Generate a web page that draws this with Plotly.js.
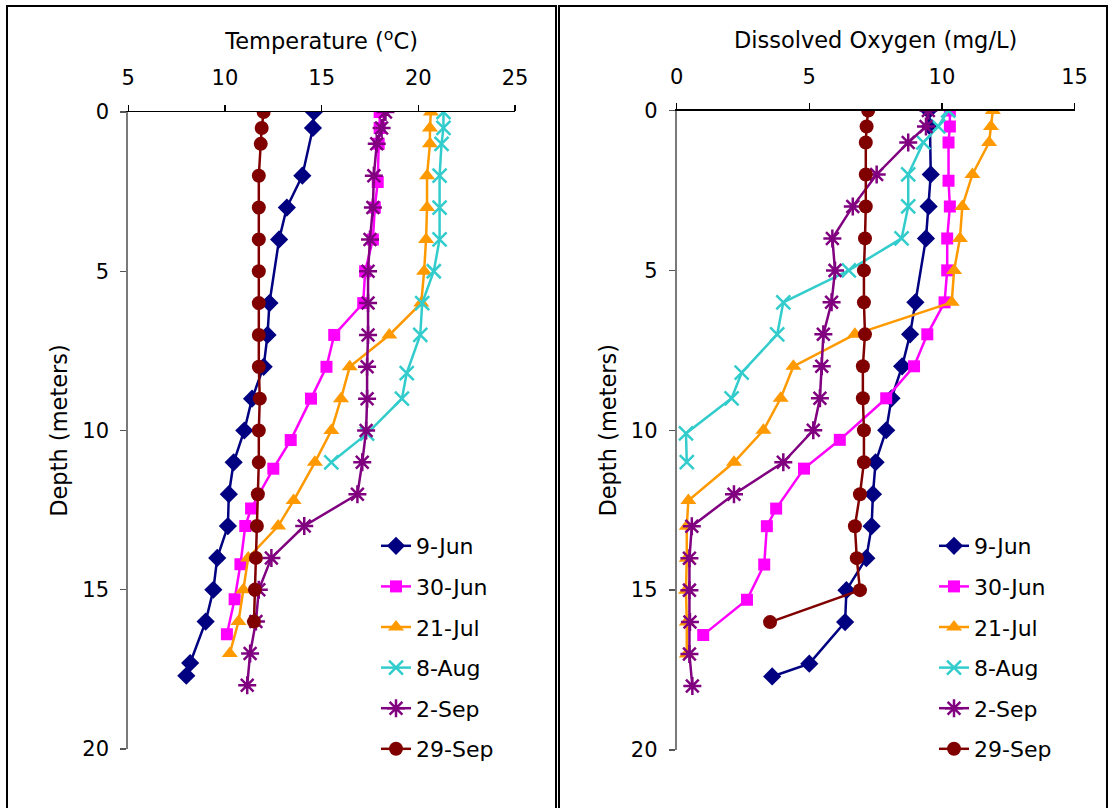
<!DOCTYPE html>
<html>
<head>
<meta charset="utf-8">
<script src="https://cdn.plot.ly/plotly-3.0.1.min.js"></script>
<style>html,body{margin:0;padding:0;background:#fff;}#chart{width:1110px;height:808px;}</style>
</head>
<body>
<div id="chart"></div>
<script>
// ---- data ----
const seriesNames = ["9-Jun", "30-Jun", "21-Jul", "8-Aug", "2-Sep", "29-Sep"];

const depth9Jun  = [0, 0.5, 2, 3, 4, 6, 7, 8, 9, 10, 11, 12, 13, 14, 15, 16, 17.3, 17.7];
const temp9Jun   = [14.6, 14.55, 14.0, 13.2, 12.8, 12.3, 12.2, 12.0, 11.4, 11.0, 10.45, 10.2, 10.15, 9.6, 9.4, 9.0, 8.2, 8.0];
const do9Jun     = [9.5, 9.55, 9.58, 9.5, 9.4, 9.0, 8.8, 8.5, 8.1, 7.9, 7.5, 7.4, 7.35, 7.15, 6.4, 6.35, 5.0, 3.6];

const depth30Jun = [0, 0.5, 1, 2.2, 3, 4, 5, 6, 7, 8, 9, 10.3, 11.2, 12.45, 13, 14.2, 15.3, 16.4];
const temp30Jun  = [18.0, 18.0, 17.95, 17.9, 17.75, 17.65, 17.25, 17.15, 15.65, 15.25, 14.45, 13.4, 12.5, 11.35, 11.05, 10.8, 10.5, 10.1];
const do30Jun    = [10.3, 10.3, 10.25, 10.25, 10.3, 10.2, 10.2, 10.1, 9.45, 8.95, 7.9, 6.15, 4.8, 3.75, 3.4, 3.3, 2.65, 1.0];

const depth21Jul = [0, 0.5, 1, 2, 3, 4, 5, 6, 7, 8, 9, 10, 11, 12.2, 13, 14, 15, 16, 17];
const temp21Jul  = [20.65, 20.6, 20.6, 20.45, 20.45, 20.4, 20.3, 20.15, 18.5, 16.45, 16.0, 15.5, 14.65, 13.55, 12.75, 11.2, 10.95, 10.7, 10.25];
const do21Jul    = [11.92, 11.85, 11.78, 11.15, 10.77, 10.68, 10.46, 10.37, 6.72, 4.4, 3.92, 3.27, 2.16, 0.44, 0.38, 0.38, 0.35, 0.38, 0.38];

const depth8Aug  = [0, 0.5, 1, 2, 3, 4, 5, 6, 7, 8.2, 9, 10.1, 11];
const temp8Aug   = [21.3, 21.3, 21.2, 21.1, 21.1, 21.1, 20.8, 20.2, 20.1, 19.4, 19.15, 17.35, 15.5];
const do8Aug     = [10.24, 9.86, 9.3, 8.73, 8.73, 8.48, 6.49, 4.02, 3.79, 2.45, 2.07, 0.35, 0.38];

const depth2Sep  = [0, 0.5, 1, 2, 3, 4, 5, 6, 7, 8, 9, 10, 11, 12, 13, 14, 15, 16, 17, 18];
const temp2Sep   = [18.3, 18.1, 17.85, 17.7, 17.65, 17.5, 17.4, 17.4, 17.4, 17.35, 17.35, 17.3, 17.1, 16.85, 14.1, 12.4, 11.75, 11.6, 11.3, 11.15];
const do2Sep     = [9.49, 9.4, 8.73, 7.54, 6.64, 5.87, 5.97, 5.84, 5.53, 5.47, 5.4, 5.15, 4.02, 2.16, 0.57, 0.48, 0.48, 0.5, 0.48, 0.59];

const depth29Sep = [0, 0.5, 1, 2, 3, 4, 5, 6, 7, 8, 9, 10, 11, 12, 13, 14, 15, 16];
const temp29Sep  = [12.0, 11.9, 11.85, 11.75, 11.75, 11.75, 11.75, 11.75, 11.75, 11.75, 11.8, 11.75, 11.75, 11.7, 11.65, 11.6, 11.55, 11.5];
const do29Sep    = [7.22, 7.16, 7.13, 7.13, 7.13, 7.1, 7.06, 7.06, 7.1, 7.02, 7.02, 7.06, 7.06, 6.91, 6.72, 6.79, 6.91, 3.52];

const tempTicks = [5, 10, 15, 20, 25];
const doTicks = [0, 5, 10, 15];
const depthTicks = [0, 5, 10, 15, 20];

// ---- styles ----
const colors = ["#000080", "#FF00FF", "#FF9900", "#33CCCC", "#800080", "#800000"];
const symbols = ["diamond", "square", "triangle-up", "x-thin-open", "asterisk-open", "circle"];
const sizes = [14, 12, 14, 14, 15, 14];
const depths = [depth9Jun, depth30Jun, depth21Jul, depth8Aug, depth2Sep, depth29Sep];
const temps = [temp9Jun, temp30Jun, temp21Jul, temp8Aug, temp2Sep, temp29Sep];
const dos = [do9Jun, do30Jun, do21Jul, do8Aug, do2Sep, do29Sep];

const FONT = "DejaVu Sans, Verdana, sans-serif";
const W = 1110, H = 808;
const px = v => v / W;
const py = v => 1 - v / H;

const traces = [];
seriesNames.forEach((name, i) => {
  const marker = {
    symbol: symbols[i], size: sizes[i], color: colors[i],
    line: {color: colors[i], width: (symbols[i].indexOf("open") >= 0) ? 2.5 : 0}
  };
  traces.push({
    type: "scatter", mode: "lines+markers", name: name,
    x: temps[i], y: depths[i], xaxis: "x", yaxis: "y",
    line: {color: colors[i], width: 2.5}, marker: marker,
    legend: "legend", legendgroup: "L" + i, hoverinfo: "skip"
  });
  traces.push({
    type: "scatter", mode: "lines+markers", name: name,
    x: dos[i], y: depths[i], xaxis: "x2", yaxis: "y2",
    line: {color: colors[i], width: 2.5}, marker: marker,
    legend: "legend2", legendgroup: "R" + i, hoverinfo: "skip"
  });
});

const xBase = {
  side: "top", showgrid: false, zeroline: false, showline: true,
  linecolor: "#000", linewidth: 1.3, ticks: "outside", ticklen: 6, tickwidth: 1.3,
  tickcolor: "#000", tickfont: {family: FONT, size: 21, color: "#000"},
  ticklabelstandoff: 11, fixedrange: true
};
const yBase = {
  autorange: false, range: [20, 0], showgrid: false, zeroline: false, showline: true,
  linecolor: "#7a7a7a", linewidth: 2, ticks: "outside", ticklen: 6, tickwidth: 1.3,
  tickcolor: "#555", tickmode: "array", tickvals: depthTicks,
  tickfont: {family: FONT, size: 21, color: "#000"}, ticklabelstandoff: 7,
  title: {text: "Depth (meters)", font: {family: FONT, size: 22.5, color: "#000"}, standoff: 8},
  fixedrange: true
};

const legendBase = {
  font: {family: FONT, size: 22, color: "#000"}, bgcolor: "rgba(0,0,0,0)",
  borderwidth: 0, xanchor: "left", yanchor: "top", tracegroupgap: 9, itemclick: false
};

const layout = {
  width: W, height: H, margin: {l: 0, r: 0, t: 0, b: 0},
  paper_bgcolor: "#fff", plot_bgcolor: "#fff", hovermode: false,
  font: {family: FONT, color: "#000"},
  xaxis: Object.assign({}, xBase, {
    domain: [px(128.3), px(515)], range: [5, 25], tickmode: "array", tickvals: tempTicks,
    anchor: "y",
    title: {text: "Temperature (<sup>o</sup>C)", font: {family: FONT, size: 22.5, color: "#000"}, standoff: 10}
  }),
  yaxis: Object.assign({}, yBase, {domain: [py(749), py(112)], anchor: "x"}),
  xaxis2: Object.assign({}, xBase, {
    domain: [px(676.7), px(1074.5)], range: [0, 15], tickmode: "array", tickvals: doTicks,
    anchor: "y2",
    title: {text: "Dissolved Oxygen (mg/L)", font: {family: FONT, size: 22.5, color: "#000"}, standoff: 10}
  }),
  yaxis2: Object.assign({}, yBase, {domain: [py(750), py(110.5)], anchor: "x2"}),
  legend: Object.assign({}, legendBase, {x: px(376), y: py(525)}),
  legend2: Object.assign({}, legendBase, {x: px(934), y: py(525)}),
  shapes: [
    {type: "rect", xref: "paper", yref: "paper", x0: px(7), x1: px(556), y0: -0.05, y1: py(6),
     line: {color: "#000", width: 2}, fillcolor: "rgba(0,0,0,0)", layer: "below"},
    {type: "rect", xref: "paper", yref: "paper", x0: px(559), x1: px(1107), y0: -0.05, y1: py(6),
     line: {color: "#000", width: 2}, fillcolor: "rgba(0,0,0,0)", layer: "below"}
  ]
};

Plotly.newPlot("chart", traces, layout, {displayModeBar: false, staticPlot: true});
</script>
</body>
</html>
